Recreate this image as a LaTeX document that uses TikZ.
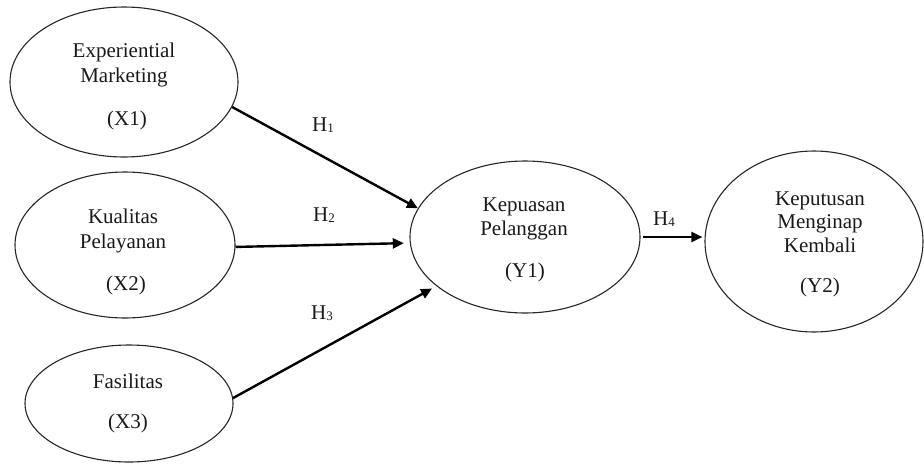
\documentclass[tikz,border=0pt]{standalone}
\usepackage{fontspec}
\setmainfont{Liberation Serif}
\usetikzlibrary{shapes.geometric,arrows.meta}
\tikzset{
  construct/.style={ellipse, draw=black!85, line width=1.1pt, inner sep=0pt},
  lbl/.style={anchor=base, inner sep=0pt, font=\fontsize{21}{25}\selectfont, text=black!90},
  path/.style={line width=2.4pt, -{Triangle[length=11pt,width=10pt]}},
  hyp/.style={anchor=base west, inner sep=0pt, font=\fontsize{21}{25}\selectfont, text=black!90}
}
\newcommand{\hsub}[1]{H\raisebox{-1pt}{\fontsize{13}{13}\selectfont #1}}
\begin{document}
\begin{tikzpicture}[x=1pt,y=-1pt]
\useasboundingbox (0,0) rectangle (924,464);
% ellipses
\node[construct, minimum width=228pt, minimum height=150pt] (X1) at (124,82) {};
\node[construct, minimum width=220pt, minimum height=146pt] (X2) at (125,245) {};
\node[construct, minimum width=208pt, minimum height=117pt] (X3) at (129,403.5) {};
\node[construct, minimum width=230pt, minimum height=152pt] (Y1) at (525,237) {};
\node[construct, minimum width=218pt, minimum height=181pt] (Y2) at (814,241.5) {};
% texts
\node[lbl] (t1a) at (124,57) {Experiential};
\node[lbl] (t1b) at (124,82) {Marketing};
\node[lbl] (t1c) at (127,125) {(X1)};
\node[lbl] (t2a) at (123,223) {Kualitas};
\node[lbl] (t2b) at (123,248) {Pelayanan};
\node[lbl] (t2c) at (126,290) {(X2)};
\node[lbl] (t3a) at (128,388) {Fasilitas};
\node[lbl] (t3c) at (128,428) {(X3)};
\node[lbl] (t4a) at (524,211) {Kepuasan};
\node[lbl] (t4b) at (524,235) {Pelanggan};
\node[lbl] (t4c) at (525,277) {(Y1)};
\node[lbl] (t5a) at (820,205) {Keputusan};
\node[lbl] (t5b) at (820,228) {Menginap};
\node[lbl] (t5c) at (820,252) {Kembali};
\node[lbl] (t5d) at (820,292) {(Y2)};
% arrows
\draw[path] (X1.-13) -- (Y1.165);
\draw[path, shorten >=6pt] (X2.-1) -- (Y1.183);
\draw[path, shorten >=5pt] (X3.3) -- (Y1.209);
\draw[path, shorten <=2pt, shorten >=2pt] (Y1.east) -- (Y1.east -| Y2.west);
% hypothesis labels
\node[hyp] (h1) at (312,131) {\hsub{1}};
\node[hyp] (h2) at (313,221) {\hsub{2}};
\node[hyp] (h3) at (311,319) {\hsub{3}};
\node[hyp] (h4) at (653,225) {\hsub{4}};
\end{tikzpicture}
\end{document}
